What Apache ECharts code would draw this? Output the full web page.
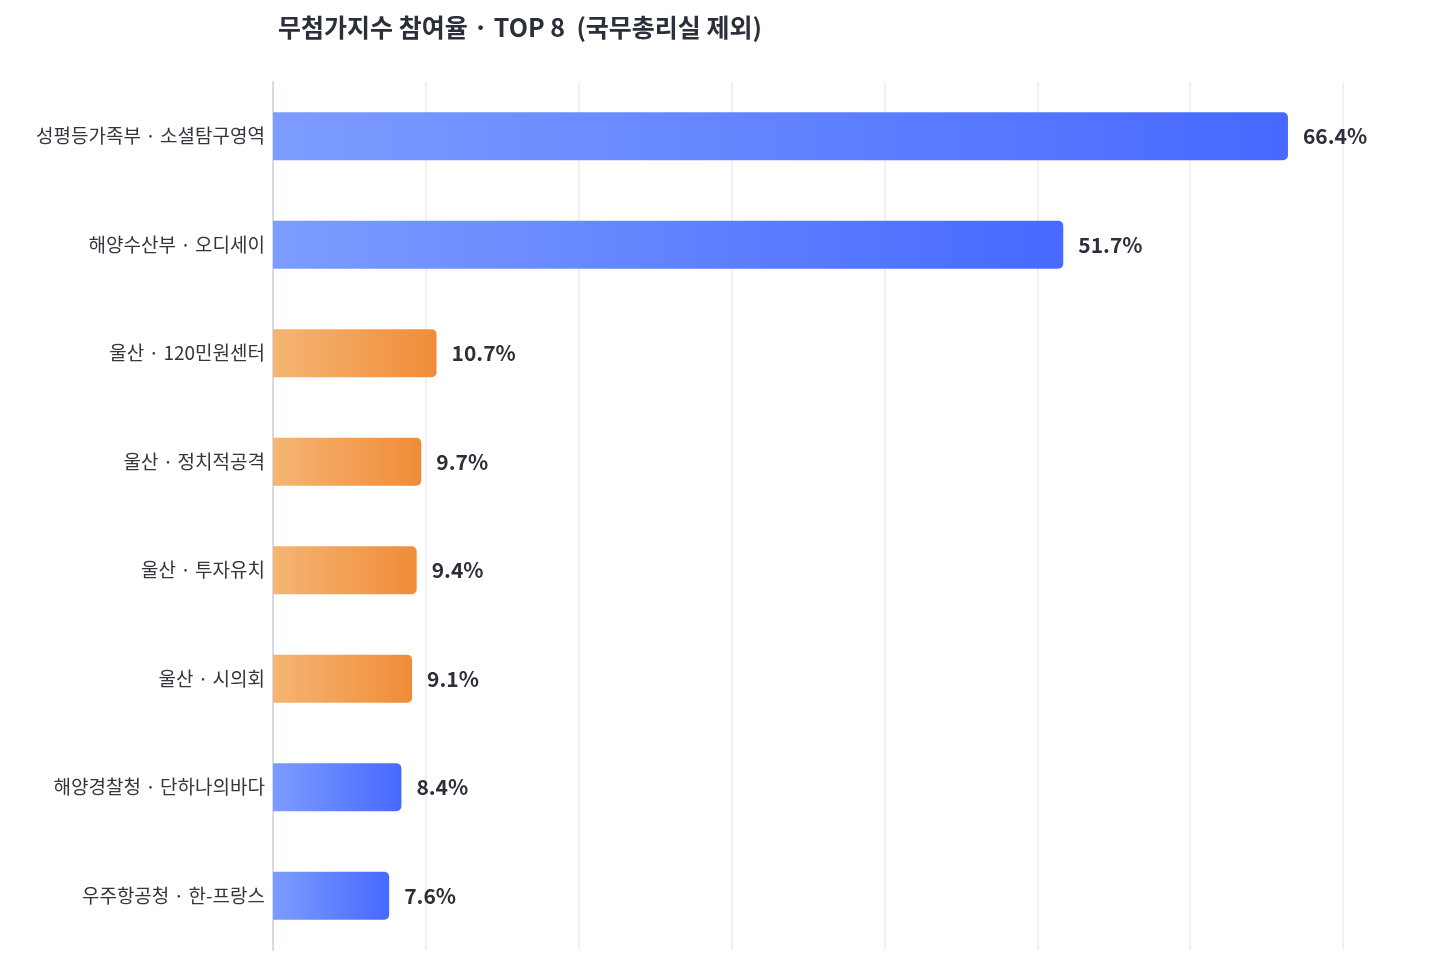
<!DOCTYPE html>
<html><head><meta charset="utf-8">
<script src="https://cdn.jsdelivr.net/npm/echarts@6/dist/echarts.min.js"></script>
<style>html,body{margin:0;padding:0;background:#fff}#c{width:1454px;height:977px}</style>
</head><body><div id="c"></div>
<script>
const categories = ['성평등가족부 · 소셜탐구영역','해양수산부 · 오디세이','울산 · 120민원센터','울산 · 정치적공격','울산 · 투자유치','울산 · 시의회','해양경찰청 · 단하나의바다','우주항공청 · 한-프랑스'];
const values = [66.4, 51.7, 10.7, 9.7, 9.4, 9.1, 8.4, 7.6];
const groups = ['blue','blue','orange','orange','orange','orange','blue','blue'];
const F = '"Noto Sans CJK KR","Noto Sans",sans-serif';
const grad = g => g === 'orange'
  ? new echarts.graphic.LinearGradient(0,0,1,0,[{offset:0,color:'#f5b574'},{offset:1,color:'#f08c38'}])
  : new echarts.graphic.LinearGradient(0,0,1,0,[{offset:0,color:'#7d9cff'},{offset:1,color:'#4769ff'}]);
const chart = echarts.init(document.getElementById('c'));
chart.setOption({
  animation:false,
  title:{text:'무첨가지수 참여율 · TOP 8  (국무총리실 제외)',left:273,top:10,textStyle:{fontFamily:F,fontSize:25,fontWeight:'bold',color:'#2b2f3a'}},
  grid:{left:273,top:82,width:1070,height:868,containLabel:false},
  xAxis:{type:'value',min:0,max:70,interval:10,axisLabel:{show:false},axisLine:{show:false},axisTick:{show:false},
    splitLine:{lineStyle:{color:'#ececf0',width:1.5}}},
  yAxis:{type:'category',inverse:true,data:categories,axisTick:{show:false},
    axisLine:{lineStyle:{color:'#d8daea',width:2}},
    axisLabel:{fontFamily:F,fontSize:19,color:'#33363f',margin:8}},
  series:[{type:'bar',barWidth:48,
    data:values.map((v,i)=>({value:v,itemStyle:{color:grad(groups[i]),borderRadius:[0,5,5,0]}})),
    label:{show:true,position:'right',distance:15,formatter:p=>p.value+'%',fontFamily:F,fontSize:21,fontWeight:'bold',color:'#2b2f3a'}}]
});
</script></body></html>
